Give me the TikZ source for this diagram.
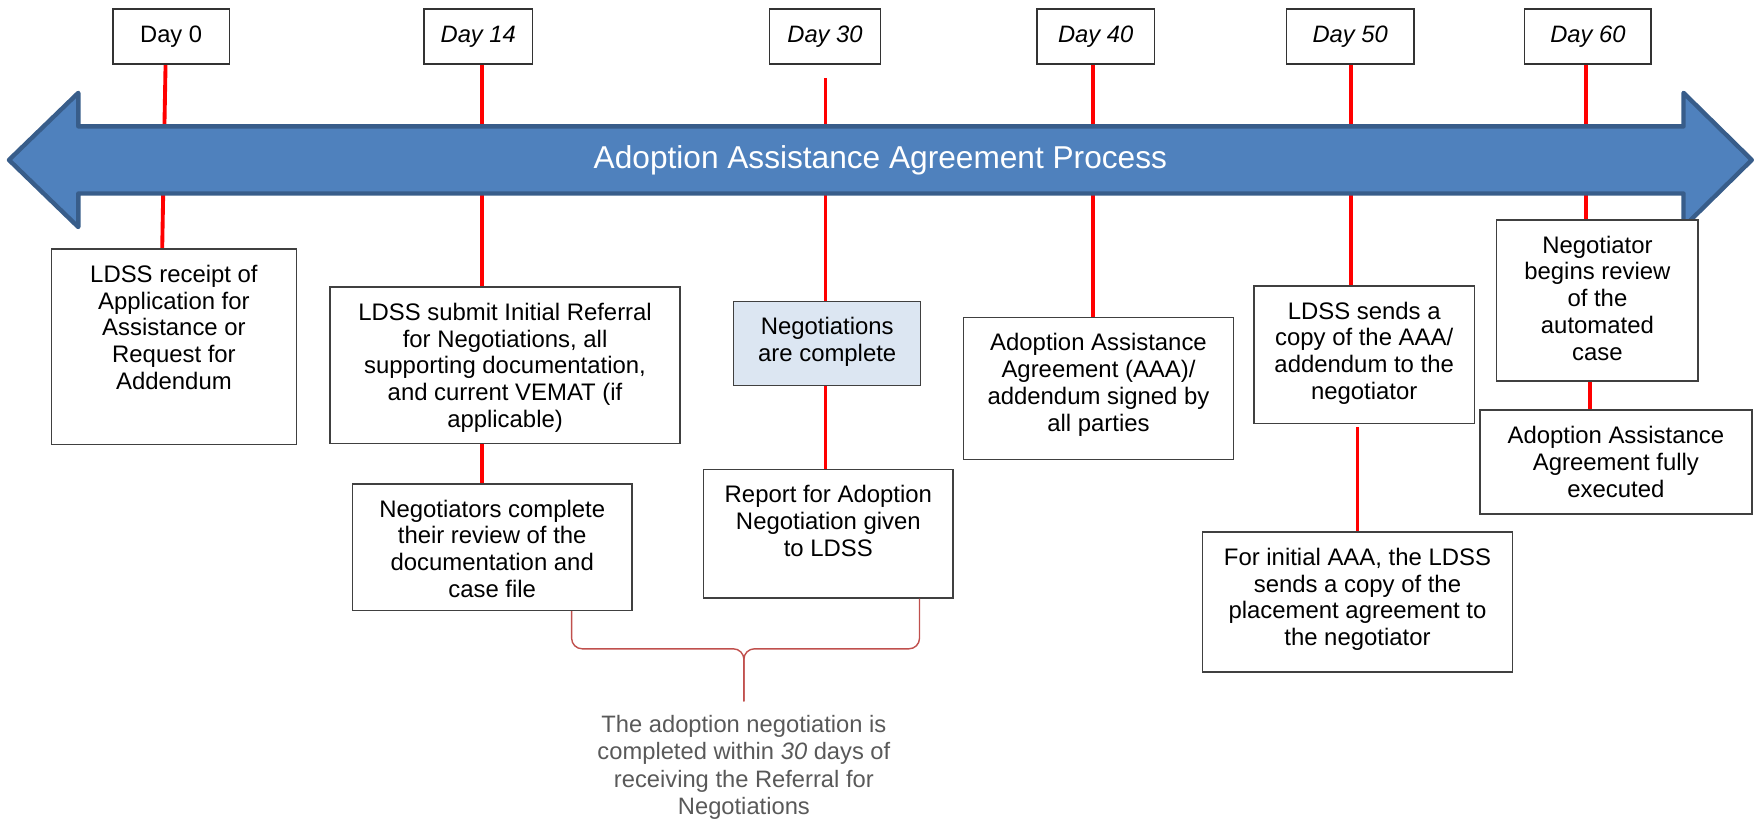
\documentclass[tikz,border=0pt]{standalone}
\usepackage{fontspec}
\setmainfont{Liberation Sans}

\definecolor{arrowblue}{HTML}{4F81BD}
\definecolor{arrowline}{HTML}{385D8A}
\definecolor{paleblue}{HTML}{DCE6F2}
\definecolor{bracered}{HTML}{C0504D}
\definecolor{notegray}{HTML}{595959}

\pgfdeclarelayer{back}
\pgfsetlayers{back,main}

\begin{document}
\begin{tikzpicture}[x=0.02237cm, y=-0.02237cm]
\tikzstyle{day} = [rectangle, draw=black!80, line width=0.8pt, minimum height=1.1cm, font=\fontsize{13.5}{15.3}\selectfont]
\tikzstyle{tick} = [red, line width=2.2pt]
\tikzstyle{bigarrow} = [fill=arrowblue, draw=arrowline, line width=2.5pt, line join=round]
\tikzstyle{brace} = [bracered, line width=0.8pt, rounded corners=6pt]
\tikzstyle{note} = [align=center, text=notegray, font=\fontsize{13.5}{15.5}\selectfont]
\tikzset{block/.style 2 args={rectangle, draw=black!75, line width=0.8pt, fill=white, inner sep=0pt, anchor=north, font=\fontsize{13.6}{15.3}\selectfont,
  execute at begin node={\begin{minipage}[c][#2][t]{#1}\centering\vspace*{9pt}},
  execute at end node={\end{minipage}}}}

\useasboundingbox (0,0) rectangle (1568,735);

\node [day, minimum width=2.33cm] (d0) at (153,32.5) {Day 0};
\node [day, minimum width=2.17cm] (d14) at (427.5,32.5) {\textit{Day 14}};
\node [day, minimum width=2.21cm] (d30) at (737.5,32.5) {\textit{Day 30}};
\node [day, minimum width=2.35cm] (d40) at (979.5,32.5) {\textit{Day 40}};
\node [day, minimum width=2.55cm] (d50) at (1207,32.5) {\textit{Day 50}};
\node [day, minimum width=2.53cm] (d60) at (1419.5,32.5) {\textit{Day 60}};

\node [block={4.90cm}{3.91cm}] (receipt) at (155.5,222) {LDSS receipt of\\Application for\\Assistance or\\Request for\\Addendum};
\node [block={7.00cm}{3.13cm}] (submit) at (451.5,256) {LDSS submit Initial Referral\\for Negotiations, all\\supporting documentation,\\and current VEMAT (if\\applicable)};
\node [block={5.59cm}{2.53cm}] (review) at (440,432) {Negotiators complete\\their review of the\\documentation and\\case file};
\node [block={3.74cm}{1.68cm}, fill=paleblue] (complete) at (739.5,269) {Negotiations\\are complete};
\node [block={4.99cm}{2.57cm}] (report) at (740.5,419) {Report for Adoption\\Negotiation given\\to LDSS};
\node [block={5.41cm}{2.84cm}] (signed) at (982,283) {Adoption Assistance\\Agreement (AAA)/\\addendum signed by\\all parties};
\node [block={4.41cm}{2.75cm}] (sends) at (1219.5,255) {LDSS sends a\\copy of the AAA/\\addendum to the\\negotiator};
\node [block={6.20cm}{2.80cm}] (placement) at (1213.5,475) {For initial AAA, the LDSS\\sends a copy of the\\placement agreement to\\the negotiator};
\node [block={4.03cm}{3.22cm}] (begins) at (1428,196) {Negotiator\\begins review\\of the\\automated\\case};
\node [block={5.44cm}{2.08cm}] (executed) at (1444.5,366) {Adoption Assistance\\Agreement fully\\executed};

\node [note] (note) at (665,686) {The adoption negotiation is\\completed within \textit{30} days of\\receiving the Referral for\\Negotiations};
\coordinate (tip) at (665,627);

\node [text=white, font=\fontsize{18}{22}\selectfont] (title) at (787,143) {Adoption Assistance Agreement Process};

\begin{pgfonlayer}{back}
\draw [tick] (148,0 |- d0.south) -- (145,0 |- receipt.north);
\draw [tick] (431,0 |- d14.south) -- (431,0 |- submit.north);
\draw [tick] (431,0 |- submit.south) -- (431,0 |- review.north);
\draw [tick] (738,70) -- (738,0 |- complete.north);
\draw [tick] (738,0 |- complete.south) -- (738,0 |- report.north);
\draw [tick] (977,0 |- d40.south) -- (977,0 |- signed.north);
\draw [tick] (1208,0 |- d50.south) -- (1208,0 |- sends.north);
\draw [tick] (placement.north) -- ++(0,-93);
\draw [tick] (1418,0 |- d60.south) -- (1418,0 |- begins.north);
\draw [tick] (1421,0 |- begins.south) -- (1421,0 |- executed.north);
\draw [bigarrow] (8,143) -- (70,83) -- (70,113) -- (1505,113) -- (1505,83) -- (1566,143) -- (1505,203) -- (1505,173) -- (70,173) -- (70,203) -- cycle;
\end{pgfonlayer}

\draw [brace] (511,0 |- review.south) -- (511,580) -- (tip |- 0,580) -- (tip);
\draw [brace] (822,0 |- report.south) -- (822,580) -- (tip |- 0,580) -- (tip);
\end{tikzpicture}
\end{document}
